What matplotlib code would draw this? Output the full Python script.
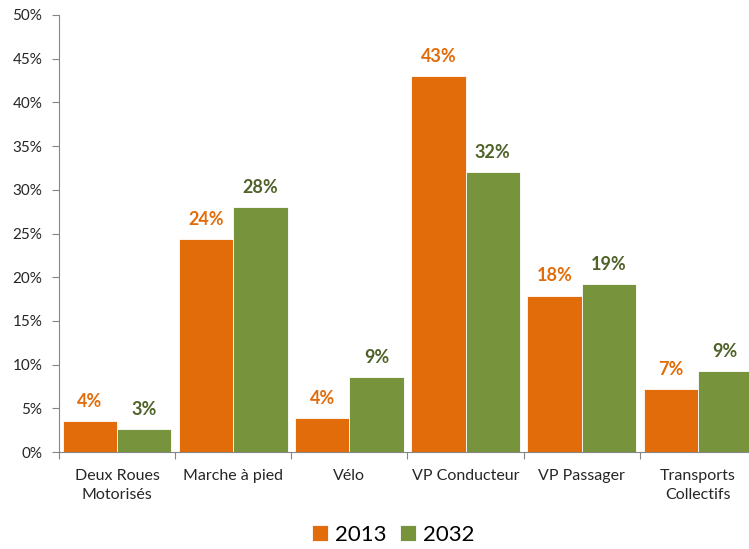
import numpy as np
import matplotlib
matplotlib.use("Agg")
import matplotlib.pyplot as plt
from matplotlib.ticker import FuncFormatter

categories = ["Deux Roues\nMotorisés", "Marche à pied", "Vélo",
              "VP Conducteur", "VP Passager", "Transports\nCollectifs"]
v2013 = [3.55, 24.4, 3.86, 43.0, 17.9, 7.2]
v2032 = [2.67, 28.06, 8.56, 32.0, 19.2, 9.3]
labels2013 = ["4%", "24%", "4%", "43%", "18%", "7%"]
labels2032 = ["3%", "28%", "9%", "32%", "19%", "9%"]

c13 = "#E36C0A"
c32 = "#77933C"
c32_txt = "#4F6228"
axis_col = "#868686"

plt.rcParams["font.family"] = ["Lato", "DejaVu Sans"]

fig = plt.figure(figsize=(7.49, 5.49), dpi=100)
ax = fig.add_axes([59 / 749, 1 - 452 / 549, (756 - 59) / 749, (452 - 15) / 549])

x = np.arange(len(categories))
w = 0.468
b1 = ax.bar(x - w / 2, v2013, w, color=c13, edgecolor="white", linewidth=0.6, label="2013")
b2 = ax.bar(x + w / 2, v2032, w, color=c32, edgecolor="white", linewidth=0.6, label="2032")

for rect, lab in zip(b1, labels2013):
    ax.annotate(lab, (rect.get_x() + rect.get_width() / 2, rect.get_height()),
                xytext=(0, 8), textcoords="offset points", ha="center", va="bottom",
                color=c13, fontsize=13, fontweight="bold")
for rect, lab in zip(b2, labels2032):
    ax.annotate(lab, (rect.get_x() + rect.get_width() / 2, rect.get_height()),
                xytext=(0, 8), textcoords="offset points", ha="center", va="bottom",
                color=c32_txt, fontsize=13, fontweight="bold")

ax.set_xlim(-0.5, len(categories) - 0.5)
ax.set_ylim(0, 50)
ax.set_yticks(np.arange(0, 51, 5))
ax.yaxis.set_major_formatter(FuncFormatter(lambda v, p: f"{int(v)}%"))

# category labels centred, ticks on boundaries
ax.set_xticks(np.arange(-0.5, len(categories) + 0.5, 1))
ax.set_xticklabels([])
ax.set_xticks(x, minor=True)
ax.set_xticklabels(categories, minor=True, fontsize=11.5, color="#262626", linespacing=1.45)
ax.tick_params(axis="x", which="minor", length=0, pad=12)
ax.tick_params(axis="x", which="major", length=5, color=axis_col, direction="out")
ax.tick_params(axis="y", length=5, color=axis_col, labelsize=11, labelcolor="#262626", pad=7)

for s in ["top", "right"]:
    ax.spines[s].set_visible(False)
ax.spines["left"].set_color(axis_col)
ax.spines["bottom"].set_color(axis_col)

fig.legend(handles=[b1, b2], labels=["2013", "2032"], loc="center",
           bbox_to_anchor=(393 / 749, 1 - 535 / 549), ncol=2, frameon=False,
           fontsize=16, handlelength=0.75, handleheight=0.75, columnspacing=0.6,
           handletextpad=0.3)

fig.savefig("out.png", dpi=100)
